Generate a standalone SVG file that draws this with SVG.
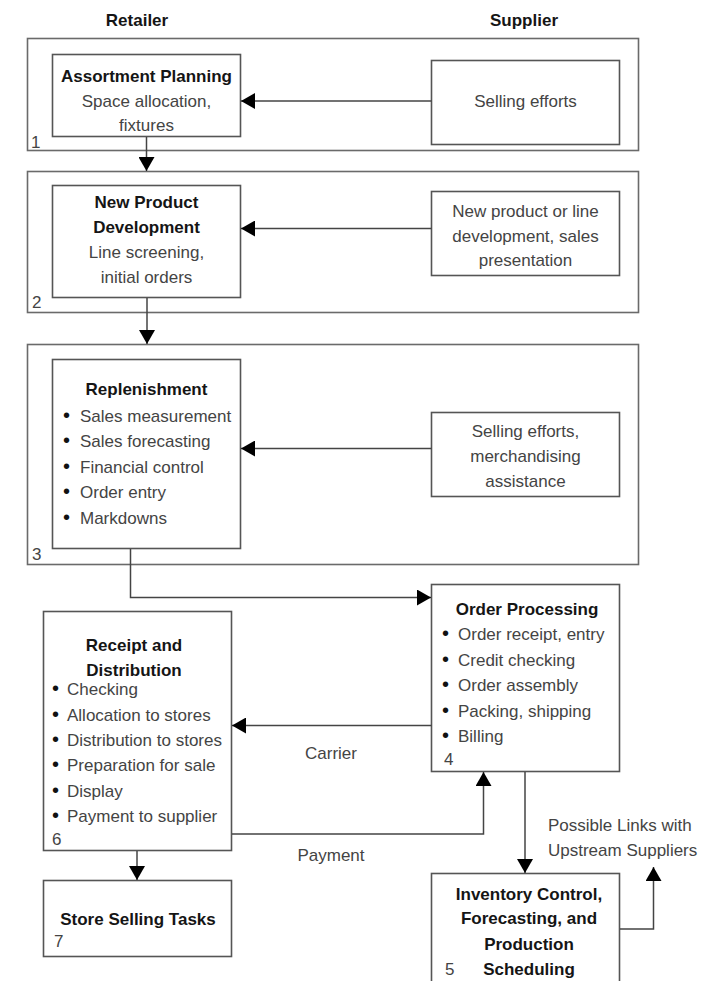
<svg xmlns="http://www.w3.org/2000/svg" width="702" height="981" viewBox="0 0 702 981">
<style>
text{font-family:"Liberation Sans",Arial,sans-serif;font-size:17px;fill:#444}
.b{font-weight:bold;fill:#151515}
.c{text-anchor:middle}
.h{font-weight:bold;fill:#151515;text-anchor:middle}
.outer{fill:none;stroke:#6a6a6a;stroke-width:1.6}
.box{fill:#fff;stroke:#555;stroke-width:1.6}
.conn{fill:none;stroke:#444;stroke-width:1.5;marker-end:url(#ah)}
.bul{fill:#111;font-size:20px}
</style>
<defs>
<marker id="ah" markerUnits="userSpaceOnUse" markerWidth="16" markerHeight="16" refX="14" refY="8" orient="auto">
<path d="M0,0 L14,8 L0,16 Z" fill="#000"/>
</marker>
</defs>
<rect width="702" height="981" fill="#fff"/>

<text class="h" x="137" y="26">Retailer</text>
<text class="h" x="524" y="26">Supplier</text>

<g id="stage1">
<rect class="outer" x="27.5" y="38.5" width="611" height="112"/>
<text x="31" y="148">1</text>
</g>
<g id="stage2">
<rect class="outer" x="27.5" y="171.5" width="611" height="141"/>
<text x="32" y="308">2</text>
</g>
<g id="stage3">
<rect class="outer" x="27.5" y="344.5" width="611" height="220"/>
<text x="32" y="560">3</text>
</g>

<g id="assortment-planning">
<rect class="box" x="52.5" y="54.5" width="188" height="82"/>
<text class="b c" x="146.5" y="82">Assortment Planning</text>
<text class="c" x="146.5" y="107">Space allocation,</text>
<text class="c" x="146.5" y="131">fixtures</text>
</g>
<g id="selling-efforts">
<rect class="box" x="431.5" y="60.5" width="188" height="84"/>
<text class="c" x="525.5" y="107">Selling efforts</text>
</g>

<g id="new-product-development">
<rect class="box" x="52.5" y="185.5" width="188" height="112"/>
<text class="b c" x="146.5" y="208">New Product</text>
<text class="b c" x="146.5" y="233">Development</text>
<text class="c" x="146.5" y="258">Line screening,</text>
<text class="c" x="146.5" y="283">initial orders</text>
</g>
<g id="new-product-supplier">
<rect class="box" x="431.5" y="191.5" width="188" height="84"/>
<text class="c" x="525.5" y="217">New product or line</text>
<text class="c" x="525.5" y="242">development, sales</text>
<text class="c" x="525.5" y="266">presentation</text>
</g>

<g id="replenishment">
<rect class="box" x="52.5" y="359.5" width="188" height="189"/>
<text class="b c" x="146.5" y="395">Replenishment</text>
<text x="63" y="422"><tspan class="bul">•</tspan><tspan x="80">Sales measurement</tspan></text>
<text x="63" y="447"><tspan class="bul">•</tspan><tspan x="80">Sales forecasting</tspan></text>
<text x="63" y="473"><tspan class="bul">•</tspan><tspan x="80">Financial control</tspan></text>
<text x="63" y="498"><tspan class="bul">•</tspan><tspan x="80">Order entry</tspan></text>
<text x="63" y="524"><tspan class="bul">•</tspan><tspan x="80">Markdowns</tspan></text>
</g>
<g id="replenishment-supplier">
<rect class="box" x="431.5" y="412.5" width="188" height="84"/>
<text class="c" x="525.5" y="437">Selling efforts,</text>
<text class="c" x="525.5" y="462">merchandising</text>
<text class="c" x="525.5" y="487">assistance</text>
</g>

<g id="order-processing">
<rect class="box" x="431.5" y="584.5" width="188" height="187"/>
<text class="b c" x="527" y="615">Order Processing</text>
<text x="442" y="640"><tspan class="bul">•</tspan><tspan x="458">Order receipt, entry</tspan></text>
<text x="442" y="666"><tspan class="bul">•</tspan><tspan x="458">Credit checking</tspan></text>
<text x="442" y="691"><tspan class="bul">•</tspan><tspan x="458">Order assembly</tspan></text>
<text x="442" y="717"><tspan class="bul">•</tspan><tspan x="458">Packing, shipping</tspan></text>
<text x="442" y="742"><tspan class="bul">•</tspan><tspan x="458">Billing</tspan></text>
<text x="444" y="765">4</text>
</g>

<g id="receipt-distribution">
<rect class="box" x="43.5" y="611.5" width="188" height="239"/>
<text class="b c" x="134" y="651">Receipt and</text>
<text class="b c" x="134" y="676">Distribution</text>
<text x="52" y="695"><tspan class="bul">•</tspan><tspan x="67">Checking</tspan></text>
<text x="52" y="721"><tspan class="bul">•</tspan><tspan x="67">Allocation to stores</tspan></text>
<text x="52" y="746"><tspan class="bul">•</tspan><tspan x="67">Distribution to stores</tspan></text>
<text x="52" y="771"><tspan class="bul">•</tspan><tspan x="67">Preparation for sale</tspan></text>
<text x="52" y="797"><tspan class="bul">•</tspan><tspan x="67">Display</tspan></text>
<text x="52" y="822"><tspan class="bul">•</tspan><tspan x="67">Payment to supplier</tspan></text>
<text x="52" y="845">6</text>
</g>

<g id="store-selling-tasks">
<rect class="box" x="43.5" y="880.5" width="188" height="76"/>
<text class="b c" x="138" y="925">Store Selling Tasks</text>
<text x="54" y="947">7</text>
</g>

<g id="inventory-control">
<rect class="box" x="431.5" y="873.5" width="188" height="120"/>
<text class="b c" x="529" y="900">Inventory Control,</text>
<text class="b c" x="529" y="924">Forecasting, and</text>
<text class="b c" x="529" y="950">Production</text>
<text class="b c" x="529" y="975">Scheduling</text>
<text x="445" y="975">5</text>
</g>

<g id="connectors">
<path class="conn" d="M146.5,137 V171"/>
<path class="conn" d="M431.5,101 H241"/>
<path class="conn" d="M147,298 V344"/>
<path class="conn" d="M431.5,228.5 H241"/>
<path class="conn" d="M431.5,448.5 H241"/>
<path class="conn" d="M130.5,549 V597.5 H431"/>
<path class="conn" d="M431.5,725.5 H232"/>
<path class="conn" d="M232,834 H483.5 V772"/>
<path class="conn" d="M137,851 V880"/>
<path class="conn" d="M525,772 V873"/>
<path class="conn" d="M620,929 H653.5 V867"/>
<text class="c" x="331" y="759">Carrier</text>
<text class="c" x="331" y="861">Payment</text>
<text x="548" y="831">Possible Links with</text>
<text x="548" y="856">Upstream Suppliers</text>
</g>
</svg>
